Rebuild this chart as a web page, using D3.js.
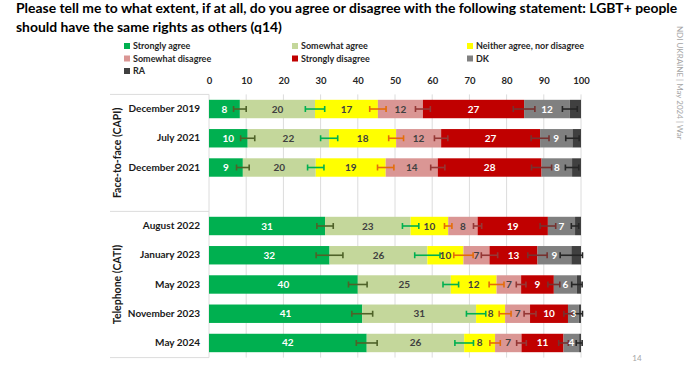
<!DOCTYPE html>
<html>
<head>
<meta charset="utf-8">
<script src="https://cdn.jsdelivr.net/npm/d3@7"></script>
<style>
  body { margin: 0; background: #fff; }
  text { font-family: Lato, "Open Sans", sans-serif; }
</style>
</head>
<body>
<div id="chart-container"></div>
<script>
// Periods, split by survey mode
var faceToFace = ["December 2019", "July 2021", "December 2021"];
var telephone = ["August 2022", "January 2023", "May 2023", "November 2023", "May 2024"];
var periods = faceToFace.concat(telephone);
var groupNames = ["Face-to-face (CAPI)", "Telephone (CATI)"];

// Answer shares (%) per period, same order as periods
var stronglyAgree = [8.3, 10.4, 9.1, 31.2, 32.4, 40.0, 41.2, 42.4];
var somewhatAgree = [20.2, 21.9, 19.6, 23.0, 26.3, 25.0, 30.6, 26.2];
var neither = [16.9, 18.0, 18.8, 10.1, 9.7, 12.3, 7.8, 8.3];
var somewhatDisagree = [12.1, 12.1, 14.0, 7.9, 7.0, 6.6, 6.7, 7.1];
var stronglyDisagree = [27.2, 26.6, 27.9, 18.9, 12.9, 8.8, 10.2, 11.3];
var dk = [12.3, 8.7, 8.2, 7.3, 9.1, 6.2, 2.9, 4.2];
var ra = [3.0, 2.3, 2.4, 1.6, 2.6, 1.1, 0.6, 0.5];

// Error bar half-widths (percentage points), drawn at the end of each stacked segment
var moeStronglyAgree = [1.7, 1.9, 1.7, 2.2, 3.6, 2.5, 2.8, 2.8];
var moeSomewhatAgree = [2.6, 2.3, 2.2, 2.2, 3.4, 2.1, 2.6, 2.5];
var moeNeither = [2.2, 2.0, 2.2, 1.0, 2.6, 2.0, 1.6, 1.4];
var moeSomewhatDisagree = [2.0, 1.8, 1.9, 1.1, 2.2, 1.3, 1.6, 1.3];
var moeStronglyDisagree = [2.9, 2.4, 2.7, 2.1, 2.6, 1.6, 1.1, 1.3];
var moeDk = [2.0, 1.8, 1.8, 1.0, 3.0, 1.4, 1.0, 0.8];

var seriesNames = ["Strongly agree", "Somewhat agree", "Neither agree, nor disagree",
  "Somewhat disagree", "Strongly disagree", "DK", "RA"];
var xTicks = [0, 10, 20, 30, 40, 50, 60, 70, 80, 90, 100];

function drawChart() {
  var width = 690, height = 370;

  var keys = ["sa", "wa", "ne", "wd", "sd", "dk", "ra"];
  var colors = ["#00b050", "#c4d79b", "#ffff00", "#da9694", "#c00000", "#808080", "#404040"];
  var labelColors = ["#ffffff", "#404040", "#404040", "#404040", "#ffffff", "#ffffff", null];
  var errColors = ["#4f6228", "#00b050", "#e46c0a", "#953735", "#76312f", "#262626"];
  var moes = [moeStronglyAgree, moeSomewhatAgree, moeNeither, moeSomewhatDisagree,
    moeStronglyDisagree, moeDk];

  // Build one row per period for d3.stack
  var rows = periods.map(function (p, i) {
    return {
      period: p, sa: stronglyAgree[i], wa: somewhatAgree[i], ne: neither[i],
      wd: somewhatDisagree[i], sd: stronglyDisagree[i], dk: dk[i], ra: ra[i]
    };
  });
  var stacked = d3.stack().keys(keys)(rows);

  var svg = d3.select("#chart-container")
    .append("svg")
    .attr("width", width)
    .attr("height", height);

  // Title, squeezed to the width of the slide
  var title = svg.append("g").attr("font-weight", "bold").attr("fill", "#000");
  var t1 = title.append("text").attr("x", 16).attr("y", 13)
    .text("Please tell me to what extent, if at all, do you agree or disagree with the following statement: LGBT+ people");
  var t2 = title.append("text").attr("x", 16).attr("y", 32)
    .text("should have the same rights as others (q14)");
  t1.style("font-size", "14px");
  var fs = 14 * 662 / t1.node().getComputedTextLength();
  t1.style("font-size", fs + "px");
  t2.style("font-size", fs + "px");

  // Scales
  var xScale = d3.scaleLinear().domain([0, 100]).range([209, 581]);
  var yScale = d3.scaleBand()
    .domain(faceToFace.concat(["gap"], telephone))
    .range([94.4, 357.6])
    .paddingInner(0.37)
    .paddingOuter(0.185);
  var step = yScale.step();
  var gapHalf = (step - yScale.bandwidth()) / 2;

  // Legend
  var legendX = [124, 292, 467];
  var legend = svg.append("g").selectAll("g")
    .data(seriesNames)
    .enter()
    .append("g")
    .attr("transform", function (d, i) {
      return "translate(" + legendX[i % 3] + "," + (46 + Math.floor(i / 3) * 12.5) + ")";
    });
  legend.append("rect")
    .attr("x", 0).attr("y", -3).attr("width", 6).attr("height", 6)
    .attr("fill", function (d, i) { return colors[i]; });
  legend.append("text")
    .attr("x", 9).attr("dy", "0.35em")
    .style("font-size", "9px").style("font-weight", "bold").attr("fill", "#262626")
    .text(function (d) { return d; });

  // Vertical gridlines
  svg.append("g").selectAll("line")
    .data(xTicks)
    .enter()
    .append("line")
    .attr("x1", function (d) { return xScale(d); })
    .attr("x2", function (d) { return xScale(d); })
    .attr("y1", yScale.range()[0])
    .attr("y2", yScale.range()[1])
    .attr("stroke", "#dcdcdc")
    .attr("stroke-width", 1);

  // Group separators on the left
  var top = yScale.range()[0], bottom = yScale.range()[1];
  var mid = yScale(telephone[0]) - gapHalf;
  svg.append("g").selectAll("line")
    .data([top, mid, bottom])
    .enter()
    .append("line")
    .attr("x1", 110).attr("x2", 209)
    .attr("y1", function (d) { return d; })
    .attr("y2", function (d) { return d; })
    .attr("stroke", "#dcdcdc");

  // Group labels
  svg.append("g").selectAll("text")
    .data([[top, mid], [mid, bottom]])
    .enter()
    .append("text")
    .attr("transform", function (d) {
      return "translate(121," + (d[0] + d[1]) / 2 + ") rotate(-90)";
    })
    .attr("text-anchor", "middle")
    .style("font-size", "10.5px").style("font-weight", "bold").attr("fill", "#1a1a1a")
    .text(function (d, i) { return groupNames[i]; });

  // X axis on top
  var xAxis = d3.axisTop(xScale).tickValues(xTicks).tickSize(0).tickPadding(10);
  var gx = svg.append("g").attr("transform", "translate(0," + top + ")").call(xAxis);
  gx.select(".domain").remove();
  gx.selectAll("text").style("font-family", "Lato, sans-serif")
    .style("font-size", "9.5px").style("font-weight", "bold").attr("fill", "#262626");

  // Y axis with period names
  var yAxis = d3.axisLeft(yScale).tickSize(0).tickPadding(9)
    .tickFormat(function (d) { return d === "gap" ? "" : d; });
  var gy = svg.append("g").attr("transform", "translate(209,0)").call(yAxis);
  gy.select(".domain").remove();
  gy.selectAll("text").style("font-family", "Lato, sans-serif")
    .style("font-size", "10px").style("font-weight", "bold").attr("fill", "#1a1a1a");

  // Stacked bars
  var layers = svg.append("g").selectAll("g")
    .data(stacked)
    .enter()
    .append("g")
    .attr("fill", function (d, i) { return colors[i]; });
  layers.selectAll("rect")
    .data(function (d) { return d; })
    .enter()
    .append("rect")
    .attr("x", function (d) { return xScale(d[0]); })
    .attr("y", function (d) { return yScale(d.data.period); })
    .attr("width", function (d) { return xScale(d[1]) - xScale(d[0]); })
    .attr("height", yScale.bandwidth());

  // Error bars at the end of each segment (no error bar for RA)
  stacked.slice(0, 6).forEach(function (layer, k) {
    var g = svg.append("g")
      .attr("stroke", errColors[k])
      .attr("stroke-width", 1.6);
    layer.forEach(function (d, i) {
      var cy = yScale(d.data.period) + yScale.bandwidth() / 2;
      var x0 = xScale(d[1] - moes[k][i]), x1 = xScale(d[1] + moes[k][i]);
      g.append("line").attr("x1", x0).attr("x2", x1).attr("y1", cy).attr("y2", cy);
      g.append("line").attr("x1", x0).attr("x2", x0).attr("y1", cy - 3).attr("y2", cy + 3);
      g.append("line").attr("x1", x1).attr("x2", x1).attr("y1", cy - 3).attr("y2", cy + 3);
    });
  });

  // Value labels in the middle of each segment
  stacked.slice(0, 6).forEach(function (layer, k) {
    svg.append("g").selectAll("text")
      .data(layer.filter(function (d) { return d[1] - d[0] >= 2.5; }))
      .enter()
      .append("text")
      .attr("x", function (d) { return xScale((d[0] + d[1]) / 2); })
      .attr("y", function (d) { return yScale(d.data.period) + yScale.bandwidth() / 2; })
      .attr("dy", "0.35em")
      .attr("text-anchor", "middle")
      .style("font-size", "10px").style("font-weight", "bold")
      .attr("fill", labelColors[k])
      .text(function (d) { return d3.format(".0f")(d[1] - d[0]); });
  });

  // Slide footer bits
  svg.append("text")
    .attr("transform", "translate(677,26) rotate(90)")
    .style("font-size", "8px").attr("fill", "#a6a6a6")
    .text("NDI UKRAINE | May 2024 | War");
  svg.append("text")
    .attr("x", 637).attr("y", 361)
    .attr("text-anchor", "middle")
    .style("font-size", "8px").attr("fill", "#a6a6a6")
    .text("14");
}

drawChart();
</script>
</body>
</html>
